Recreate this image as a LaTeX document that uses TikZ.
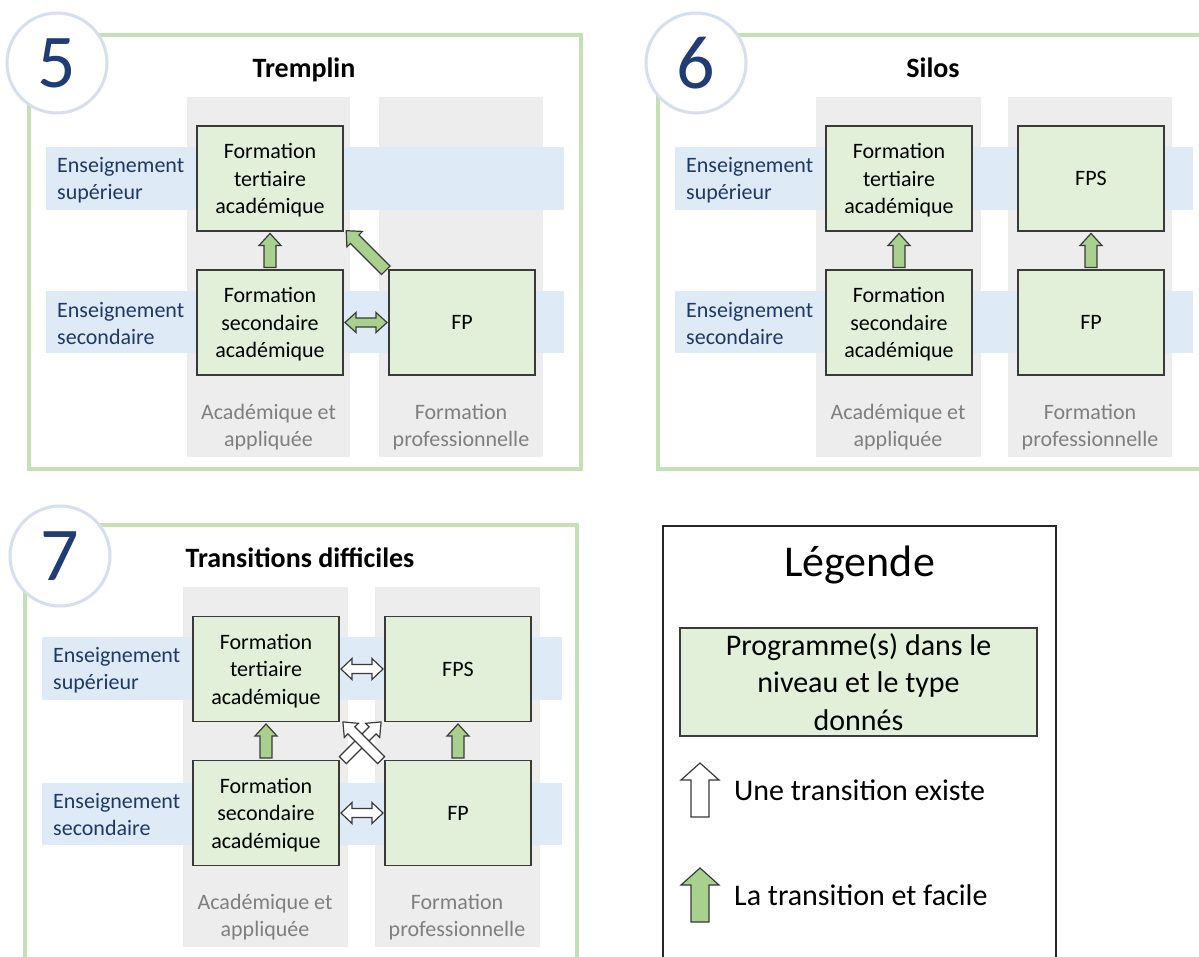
\documentclass[tikz,border=0pt]{standalone}
\usepackage{fontspec}
\setmainfont{Carlito}
\usetikzlibrary{calc}
\definecolor{boxgreen}{HTML}{E2F0D9}
\definecolor{arrgreen}{HTML}{A9D18E}
\definecolor{bandblue}{HTML}{DEEBF7}
\definecolor{colgray}{HTML}{EDEDED}
\definecolor{framegreen}{HTML}{C5E0B4}
\definecolor{navy}{HTML}{1F3864}
\definecolor{digitblue}{HTML}{203C74}
\definecolor{labgray}{HTML}{7F7F7F}
\definecolor{circedge}{HTML}{D6DFEE}
\definecolor{outline}{HTML}{3A3A3A}
\newcommand\fsz[2]{\fontsize{#1}{#2}\selectfont}
\tikzset{
  fa len/.store in=\falen, fa len=34,
  fa head/.store in=\fahead, fa head=22,
  fa shaft/.store in=\fashaft, fa shaft=12,
  fa hlen/.store in=\fahlen, fa hlen=12,
  pics/fatarrow/.style={code={
    \path[pic actions] (-\falen/2,-\fashaft/2) -- (\falen/2-\fahlen,-\fashaft/2) -- (\falen/2-\fahlen,-\fahead/2) -- (\falen/2,0) -- (\falen/2-\fahlen,\fahead/2) -- (\falen/2-\fahlen,\fashaft/2) -- (-\falen/2,\fashaft/2) -- cycle;
  }},
  pics/dblarrow/.style={code={
    \path[pic actions] (-\falen/2,0) -- (-\falen/2+\fahlen,-\fahead/2) -- (-\falen/2+\fahlen,-\fashaft/2) -- (\falen/2-\fahlen,-\fashaft/2) -- (\falen/2-\fahlen,-\fahead/2) -- (\falen/2,0) -- (\falen/2-\fahlen,\fahead/2) -- (\falen/2-\fahlen,\fashaft/2) -- (-\falen/2+\fahlen,\fashaft/2) -- (-\falen/2+\fahlen,\fahead/2) -- cycle;
  }},
  greenarr/.style={fill=arrgreen, draw=outline, line width=1.2, line join=miter},
  whitearr/.style={fill=white, draw=outline, line width=1.2, line join=miter},
  frame/.style={draw=framegreen, line width=4},
  numcirc/.style={circle, fill=white, draw=circedge, line width=3, minimum size=100, inner sep=0, text=digitblue, font=\fsz{76}{76}},
  ptitle/.style={anchor=base, inner sep=0, font=\fsz{28}{34}\bfseries},
  prog/.style={draw=outline, fill=boxgreen, line width=1.8, minimum width=146, minimum height=105, inner sep=0, text depth=0pt, align=center, font=\fsz{22}{27.5}},
  lvl/.style={anchor=west, inner sep=0, align=left, text=navy, font=\fsz{22}{27}},
  collab/.style={inner sep=0, align=center, text=labgray, font=\fsz{22}{27}},
  colrect/.style={fill=colgray},
  bandrect/.style={fill=bandblue},
}
\begin{document}
\begin{tikzpicture}[x=1pt,y=-1pt]
\clip (0,0) rectangle (1199,956);
\fill[white] (0,0) rectangle (1199,956);

% ---------- Panel 5 ----------
\begin{scope}
  \draw[frame] (29,35) rectangle (581,469);
  \node[numcirc] (c5) at (57,63) {5};
  \node[ptitle] (t5) at (304,77) {Tremplin};
  \fill[colrect] (187,97) rectangle (350,457);
  \fill[colrect] (379,97) rectangle (543,457);
  \fill[bandrect] (46,147) rectangle (564,210);
  \fill[bandrect] (46,291) rectangle (564,353);
  \node[prog] (p5ter) at (270,178.5) {Formation\\tertiaire\\académique};
  \node[prog] (p5sec) at (270,322.5) {Formation\\secondaire\\académique};
  \node[prog] (p5fp) at (462,322.5) {FP};
  \node[lvl] (l5a) at (57,180) {Enseignement\\supérieur};
  \node[lvl] (l5b) at (57,323.5) {Enseignement\\secondaire};
  \node[collab] (k5a) at (268.5,427) {Académique et\\appliquée};
  \node[collab] (k5b) at (461,427) {Formation\\professionnelle};
  \pic[greenarr, rotate=90] at ($(p5ter.south)!0.5!(p5sec.north)$) {fatarrow};
  \pic[greenarr, rotate=135, fa len=56] at ($(p5ter.south east)!0.5!(p5fp.north west)$) {fatarrow};
  \pic[greenarr, fa len=42, fa head=20, fa shaft=9, fa hlen=11] at ($(p5sec.east)!0.5!(p5fp.west)$) {dblarrow};
\end{scope}

% ---------- Panel 6 ----------
\begin{scope}[shift={(629,0)}]
  \draw[frame] (29,35) rectangle (581,469);
  \node[numcirc] (c6) at (67,63) {6};
  \node[ptitle] (t6) at (304,77) {Silos};
  \fill[colrect] (187,97) rectangle (352,457);
  \fill[colrect] (379,97) rectangle (543,457);
  \fill[bandrect] (46,147) rectangle (564,210);
  \fill[bandrect] (46,291) rectangle (564,353);
  \node[prog] (p6ter) at (270,178.5) {Formation\\tertiaire\\académique};
  \node[prog] (p6sec) at (270,322.5) {Formation\\secondaire\\académique};
  \node[prog] (p6fps) at (462,178.5) {FPS};
  \node[prog] (p6fp) at (462,322.5) {FP};
  \node[lvl] (l6a) at (57,180) {Enseignement\\supérieur};
  \node[lvl] (l6b) at (57,323.5) {Enseignement\\secondaire};
  \node[collab] (k6a) at (269,427) {Académique et\\appliquée};
  \node[collab] (k6b) at (461,427) {Formation\\professionnelle};
  \pic[greenarr, rotate=90] at ($(p6ter.south)!0.5!(p6sec.north)$) {fatarrow};
  \pic[greenarr, rotate=90] at ($(p6fps.south)!0.5!(p6fp.north)$) {fatarrow};
\end{scope}

% ---------- Panel 7 ----------
\begin{scope}[shift={(-4,490)}]
  \draw[frame] (29,35) rectangle (581,475);
  \node[numcirc] (c7) at (64,66) {7};
  \node[ptitle] (t7) at (304,77) {Transitions difficiles};
  \fill[colrect] (187,97) rectangle (352,457);
  \fill[colrect] (379,97) rectangle (544,457);
  \fill[bandrect] (46,147) rectangle (566,210);
  \fill[bandrect] (46,293) rectangle (566,355);
  \node[prog] (p7ter) at (270,179) {Formation\\tertiaire\\académique};
  \node[prog] (p7sec) at (270,323) {Formation\\secondaire\\académique};
  \node[prog] (p7fps) at (462,179) {FPS};
  \node[prog] (p7fp) at (462,323) {FP};
  \node[lvl] (l7a) at (57,180) {Enseignement\\supérieur};
  \node[lvl] (l7b) at (57,324) {Enseignement\\secondaire};
  \node[collab] (k7a) at (269,427) {Académique et\\appliquée};
  \node[collab] (k7b) at (461,427) {Formation\\professionnelle};
  \pic[greenarr, rotate=90] at ($(p7ter.south)!0.5!(p7sec.north)$) {fatarrow};
  \pic[greenarr, rotate=90] at ($(p7fps.south)!0.5!(p7fp.north)$) {fatarrow};
  \pic[whitearr, fa len=42, fa head=21, fa shaft=9, fa hlen=11] at ($(p7ter.east)!0.5!(p7fps.west)$) {dblarrow};
  \pic[whitearr, fa len=42, fa head=21, fa shaft=9, fa hlen=11] at ($(p7sec.east)!0.5!(p7fp.west)$) {dblarrow};
  \pic[whitearr, rotate=45, fa len=54, fa head=20, fa shaft=10, fa hlen=12] at ($(p7ter.south east)!0.5!(p7fp.north west)$) {fatarrow};
  \pic[whitearr, rotate=135, fa len=54, fa head=20, fa shaft=10, fa hlen=12] at ($(p7ter.south east)!0.5!(p7fp.north west)$) {fatarrow};
\end{scope}

% ---------- Legend ----------
\draw[black!85, line width=2] (663,526) rectangle (1056,990);
\node[anchor=base, inner sep=0, font=\fsz{44}{50}] (legt) at (859.5,576) {Légende};
\node[draw=outline, fill=boxgreen, line width=1.8, minimum width=357, minimum height=108, inner sep=0, align=center, font=\fsz{30}{37.5}] (legp) at (858.5,682) {Programme(s) dans le\\niveau et le type\\donnés};
\pic[whitearr, rotate=90, fa len=54, fa head=38, fa shaft=18, fa hlen=17] at (700,790) {fatarrow};
\node[anchor=west, inner sep=0, font=\fsz{30}{37}] (lega) at (734,790) {Une transition existe};
\pic[greenarr, rotate=90, fa len=54, fa head=38, fa shaft=18, fa hlen=17] at (700,895) {fatarrow};
\node[anchor=west, inner sep=0, font=\fsz{30}{37}] (legb) at (734,895) {La transition et facile};
\end{tikzpicture}
\end{document}
